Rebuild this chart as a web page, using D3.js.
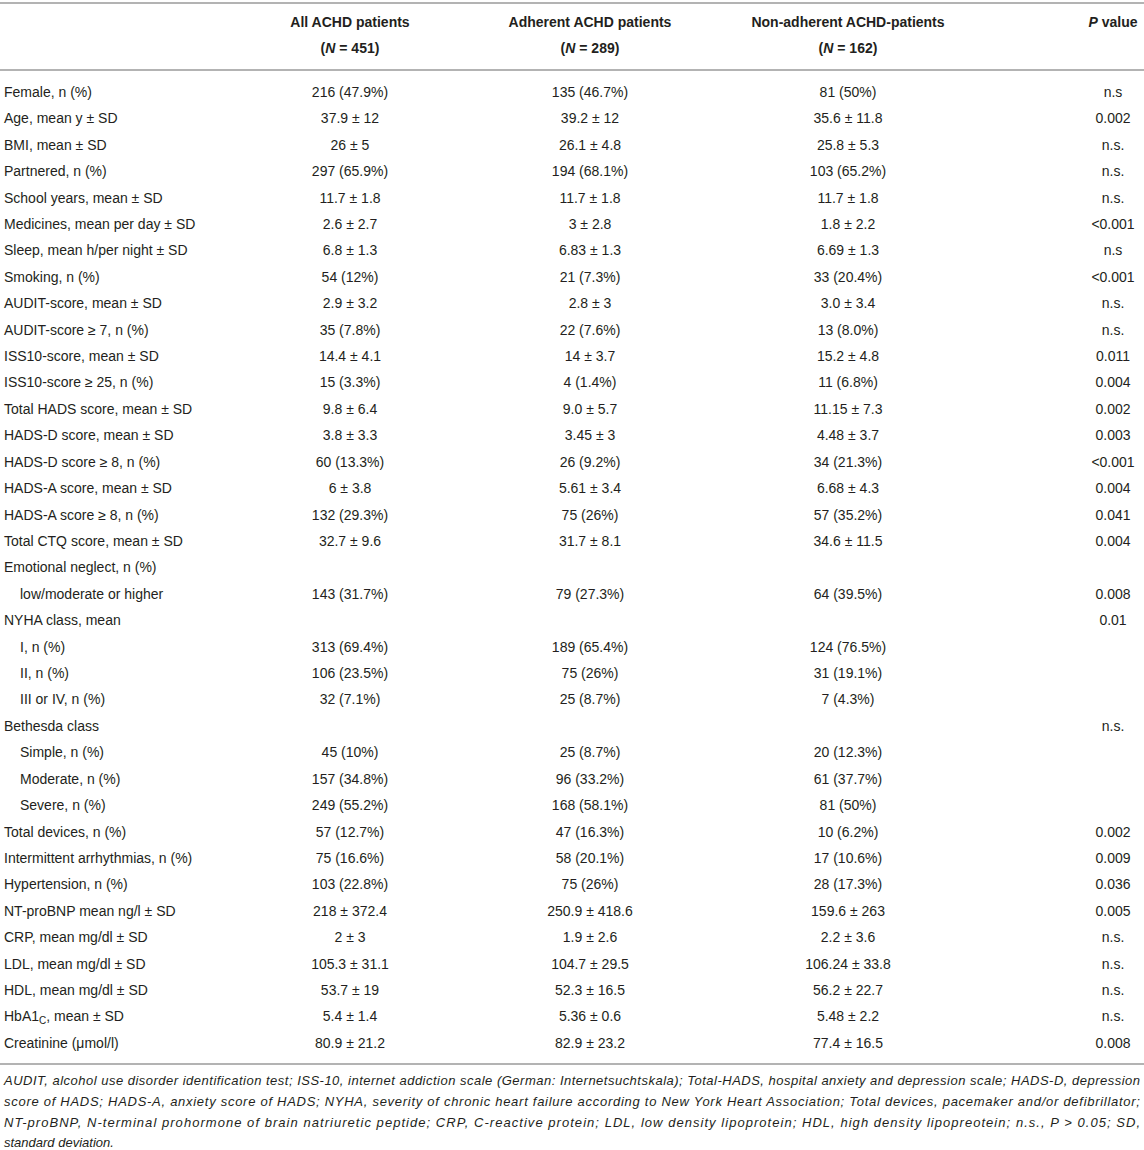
<!DOCTYPE html>
<html><head><meta charset="utf-8">
<script src="https://cdn.jsdelivr.net/npm/d3@7"></script>
<style>body{margin:0;background:#fff}svg{display:block}</style>
</head><body><div id="c"></div>
<script>
const headers = [["All ACHD patients","451"],["Adherent ACHD patients","289"],["Non-adherent ACHD-patients","162"]];
const labels = ["Female, n (%)","Age, mean y ± SD","BMI, mean ± SD","Partnered, n (%)","School years, mean ± SD","Medicines, mean per day ± SD","Sleep, mean h/per night ± SD","Smoking, n (%)","AUDIT-score, mean ± SD","AUDIT-score ≥ 7, n (%)","ISS10-score, mean ± SD","ISS10-score ≥ 25, n (%)","Total HADS score, mean ± SD","HADS-D score, mean ± SD","HADS-D score ≥ 8, n (%)","HADS-A score, mean ± SD","HADS-A score ≥ 8, n (%)","Total CTQ score, mean ± SD","Emotional neglect, n (%)","low/moderate or higher","NYHA class, mean","I, n (%)","II, n (%)","III or IV, n (%)","Bethesda class","Simple, n (%)","Moderate, n (%)","Severe, n (%)","Total devices, n (%)","Intermittent arrhythmias, n (%)","Hypertension, n (%)","NT-proBNP mean ng/l ± SD","CRP, mean mg/dl ± SD","LDL, mean mg/dl ± SD","HDL, mean mg/dl ± SD","HbA1_C, mean ± SD","Creatinine (μmol/l)"];
const indented = [19,21,22,23,25,26,27];
const allVals = ["216 (47.9%)","37.9 ± 12","26 ± 5","297 (65.9%)","11.7 ± 1.8","2.6 ± 2.7","6.8 ± 1.3","54 (12%)","2.9 ± 3.2","35 (7.8%)","14.4 ± 4.1","15 (3.3%)","9.8 ± 6.4","3.8 ± 3.3","60 (13.3%)","6 ± 3.8","132 (29.3%)","32.7 ± 9.6","","143 (31.7%)","","313 (69.4%)","106 (23.5%)","32 (7.1%)","","45 (10%)","157 (34.8%)","249 (55.2%)","57 (12.7%)","75 (16.6%)","103 (22.8%)","218 ± 372.4","2 ± 3","105.3 ± 31.1","53.7 ± 19","5.4 ± 1.4","80.9 ± 21.2"];
const adhVals = ["135 (46.7%)","39.2 ± 12","26.1 ± 4.8","194 (68.1%)","11.7 ± 1.8","3 ± 2.8","6.83 ± 1.3","21 (7.3%)","2.8 ± 3","22 (7.6%)","14 ± 3.7","4 (1.4%)","9.0 ± 5.7","3.45 ± 3","26 (9.2%)","5.61 ± 3.4","75 (26%)","31.7 ± 8.1","","79 (27.3%)","","189 (65.4%)","75 (26%)","25 (8.7%)","","25 (8.7%)","96 (33.2%)","168 (58.1%)","47 (16.3%)","58 (20.1%)","75 (26%)","250.9 ± 418.6","1.9 ± 2.6","104.7 ± 29.5","52.3 ± 16.5","5.36 ± 0.6","82.9 ± 23.2"];
const nonVals = ["81 (50%)","35.6 ± 11.8","25.8 ± 5.3","103 (65.2%)","11.7 ± 1.8","1.8 ± 2.2","6.69 ± 1.3","33 (20.4%)","3.0 ± 3.4","13 (8.0%)","15.2 ± 4.8","11 (6.8%)","11.15 ± 7.3","4.48 ± 3.7","34 (21.3%)","6.68 ± 4.3","57 (35.2%)","34.6 ± 11.5","","64 (39.5%)","","124 (76.5%)","31 (19.1%)","7 (4.3%)","","20 (12.3%)","61 (37.7%)","81 (50%)","10 (6.2%)","17 (10.6%)","28 (17.3%)","159.6 ± 263","2.2 ± 3.6","106.24 ± 33.8","56.2 ± 22.7","5.48 ± 2.2","77.4 ± 16.5"];
const pVals = ["n.s","0.002","n.s.","n.s.","n.s.","<0.001","n.s","<0.001","n.s.","n.s.","0.011","0.004","0.002","0.003","<0.001","0.004","0.041","0.004","","0.008","0.01","","","","n.s.","","","","0.002","0.009","0.036","0.005","n.s.","n.s.","n.s.","n.s.","0.008"];
const footLines = [
 "AUDIT, alcohol use disorder identification test; ISS-10, internet addiction scale (German: Internetsuchtskala); Total-HADS, hospital anxiety and depression scale; HADS-D, depression",
 "score of HADS; HADS-A, anxiety score of HADS; NYHA, severity of chronic heart failure according to New York Heart Association; Total devices, pacemaker and/or defibrillator;",
 "NT-proBNP, N-terminal prohormone of brain natriuretic peptide; CRP, C-reactive protein; LDL, low density lipoprotein; HDL, high density lipopreotein; n.s., P > 0.05; SD,",
 "standard deviation."];

const W=1144,H=1150;
const svg=d3.select("#c").append("svg").attr("width",W).attr("height",H)
  .style("font-family","'Liberation Sans', Arial, sans-serif").style("fill","#231f20");
const y=d3.scalePoint().domain(d3.range(labels.length)).range([92,1043]);
const colX=[350,590,848,1113];
const fs=14;

// rules
[3,70,1064].forEach(yy=>svg.append("line").attr("x1",0).attr("x2",W).attr("y1",yy).attr("y2",yy)
  .attr("stroke","#b3b3b3").attr("stroke-width",2));

// headers
headers.forEach((h,i)=>{
  svg.append("text").attr("x",colX[i]).attr("y",22).attr("dy","0.35em").attr("text-anchor","middle")
    .attr("font-weight","bold").attr("font-size",fs).text(h[0]);
  const t=svg.append("text").attr("x",colX[i]).attr("y",48).attr("dy","0.35em").attr("text-anchor","middle")
    .attr("font-weight","bold").attr("font-size",fs);
  t.append("tspan").text("(");
  t.append("tspan").attr("font-style","italic").text("N");
  t.append("tspan").text(" = "+h[1]+")");
});
{
  const t=svg.append("text").attr("x",colX[3]).attr("y",22).attr("dy","0.35em").attr("text-anchor","middle")
    .attr("font-weight","bold").attr("font-size",fs);
  t.append("tspan").attr("font-style","italic").text("P");
  t.append("tspan").text(" value");
}

// rows
const rows=svg.selectAll("g.row").data(labels).join("g").attr("class","row")
  .attr("transform",(d,i)=>`translate(0,${y(i)})`);
rows.each(function(lab,i){
  const g=d3.select(this);
  const t=g.append("text").attr("x",indented.includes(i)?20:4).attr("dy","0.35em").attr("font-size",fs);
  if(lab.includes("_")){
    const [a,rest]=lab.split("_");
    t.append("tspan").text(a);
    t.append("tspan").attr("font-size",10).attr("dy",3).text(rest[0]);
    t.append("tspan").attr("dy",-3).text(rest.slice(1));
  } else t.text(lab);
  [allVals[i],adhVals[i],nonVals[i],pVals[i]].forEach((v,k)=>{
    if(v) g.append("text").attr("x",colX[k]).attr("dy","0.35em").attr("text-anchor","middle").attr("font-size",fs).text(v);
  });
});

// footnote
const fy=[1081,1102,1123,1143];
footLines.forEach((l,i)=>{
  const t=svg.append("text").attr("x",4).attr("y",fy[i]).attr("dy","0.3em").attr("font-size",13)
    .attr("font-style","italic").text(l);
  if(i<3) t.attr("textLength",1136).attr("lengthAdjust","spacing");
});
</script></body></html>
